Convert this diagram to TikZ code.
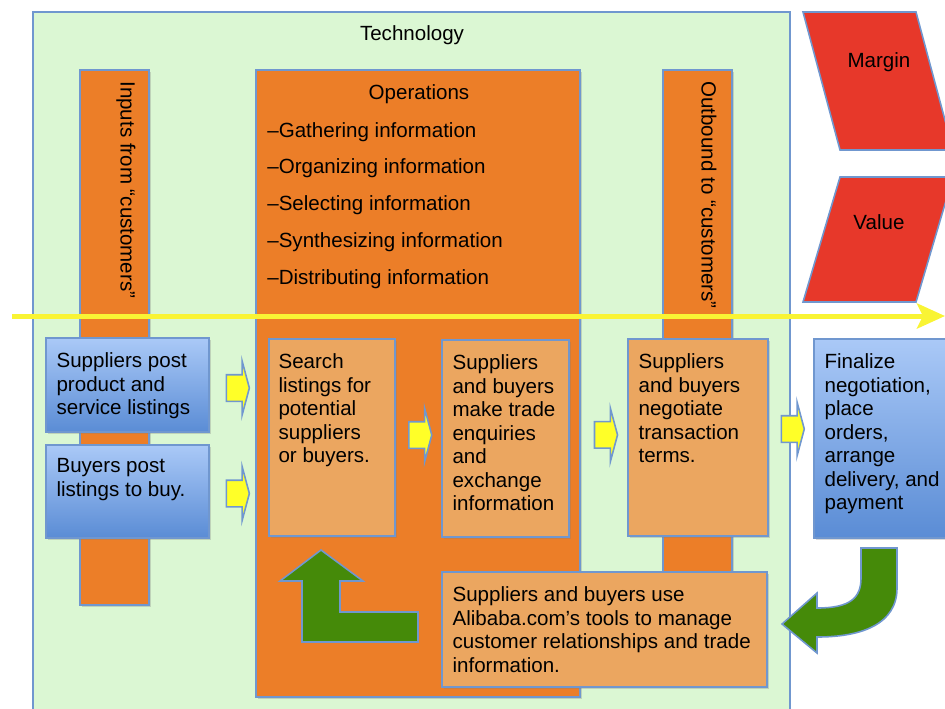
\documentclass[tikz,border=0pt]{standalone}
\usepackage{fontspec}
\setmainfont{Liberation Sans}
\usetikzlibrary{arrows.meta,shapes.arrows,fit,calc,shadows}

\definecolor{techgreen}{RGB}{219,247,211}
\definecolor{edgeblue}{RGB}{112,151,207}
\definecolor{barorange}{RGB}{236,126,40}
\definecolor{paleorange}{RGB}{235,166,96}
\definecolor{marginred}{RGB}{231,56,42}
\definecolor{flowyellow}{RGB}{249,244,52}
\definecolor{stepyellow}{RGB}{255,255,40}
\definecolor{leafgreen}{RGB}{69,138,9}
\definecolor{skytop}{RGB}{170,201,247}
\definecolor{skybottom}{RGB}{90,140,213}

\tikzset{
	px/.style={x=0.02cm,y=-0.02cm},
	boxshadow/.style={drop shadow={shadow xshift=1.2pt,shadow yshift=-1.2pt,opacity=0.3}},
	techbox/.style={draw=edgeblue,line width=0.9pt,fill=techgreen,inner sep=0pt},
	bar/.style={draw=edgeblue,line width=0.9pt,fill=barorange,inner sep=0pt,boxshadow},
	palebox/.style={draw=edgeblue,line width=0.9pt,fill=paleorange,inner sep=0pt,boxshadow},
	bluebox/.style={draw=edgeblue,line width=0.9pt,top color=skytop,bottom color=skybottom,inner sep=0pt,boxshadow},
	txt/.style={inner sep=0pt,align=left,anchor=north west},
	vtxt/.style={inner sep=0pt,rotate=-90,anchor=west},
	redshape/.style={draw=edgeblue,line width=0.9pt,fill=marginred,line join=miter},
	flow/.style={draw=flowyellow,line width=0.1cm,-{Stealth[length=0.56cm,width=0.5cm,inset=0.12cm]}},
	steparrow/.style={single arrow,draw=edgeblue,fill=stepyellow,line width=0.9pt,inner xsep=0pt,inner ysep=0.25cm,minimum height=0.46cm,single arrow head extend=0.27cm,single arrow tip angle=150},
	leaf/.style={draw=edgeblue,line width=0.9pt,fill=leafgreen,line join=miter}
}

\begin{document}
\begin{tikzpicture}[px,font=\fontsize{11.7}{13.4}\selectfont]
	\useasboundingbox (0,0) rectangle (945,708);
	\clip (0,0) rectangle (945,708);

	% frame and primary activities
	\node[techbox,fit={(33,12) (790,740)}] (tech) {};
	\node (techlbl) at (412,35) {Technology};
	\node[bar,fit={(80,70) (149,605)}] (inbar) {};
	\node[bar,fit={(256,70) (580,697)}] (ops) {};
	\node[bar,fit={(663,70) (732,620)}] (outbar) {};
	\node[vtxt] (intxt) at (126,81) {Inputs from “customers”};
	\node[vtxt] (outtxt) at (709,81) {Outbound to “customers”};
	\node (opstitle) at (419,94) {Operations};
	\node[txt,font=\fontsize{11.7}{20.9}\selectfont] (opslist) at (267,122) {–Gathering information\\–Organizing information\\–Selecting information\\–Synthesizing information\\–Distributing information};

	% margin and value
	\draw[redshape] (803,12) -- (916,12) -- (953,150) -- (840,150) -- cycle;
	\node (marginlbl) at (879,62) {Margin};
	\draw[redshape] (840,177) -- (953,177) -- (916,302) -- (803,302) -- cycle;
	\node (valuelbl) at (879,222) {Value};

	\coordinate (flowstart) at (12,316);
	\coordinate (flowend) at (945,316);
	\draw[flow] (flowstart) -- (flowend);

	% steps
	\node[bluebox,fit={(46,338) (209,432)}] (spost) {};
	\node[bluebox,fit={(46,445) (209,538)}] (bpost) {};
	\node[palebox,fit={(269,339) (395,536)}] (search) {};
	\node[palebox,fit={(442,340) (569,537)}] (enquire) {};
	\node[palebox,fit={(628,339) (768,536)}] (negotiate) {};
	\node[bluebox,fit={(814,339) (960,538)}] (finalize) {};
	\node[palebox,fit={(442,572) (767,687)}] (manage) {};

	\node[txt] (sposttxt) at ([shift={(11,15)}]spost.north west) {Suppliers post\\product and\\service listings};
	\node[txt] (bposttxt) at ([shift={(11,14)}]bpost.north west) {Buyers post\\listings to buy.};
	\node[txt] (searchtxt) at ([shift={(10,15)}]search.north west) {Search\\listings for\\potential\\suppliers\\or buyers.};
	\node[txt] (enquiretxt) at ([shift={(11,15)}]enquire.north west) {Suppliers\\and buyers\\make trade\\enquiries\\and\\exchange\\information};
	\node[txt] (negotiatetxt) at ([shift={(11,15)}]negotiate.north west) {Suppliers\\and buyers\\negotiate\\transaction\\terms.};
	\node[txt] (finalizetxt) at ([shift={(11,15)}]finalize.north west) {Finalize\\negotiation,\\place\\orders,\\arrange\\delivery, and\\payment};
	\node[txt] (managetxt) at ([shift={(11,15)}]manage.north west) {Suppliers and buyers use\\Alibaba.com’s tools to manage\\customer relationships and trade\\information.};

	\node[steparrow] (step1) at ($(spost.east)!0.45!(spost.east -| search.west)+(0,3)$) {};
	\node[steparrow] (step2) at ($(bpost.east)!0.45!(bpost.east -| search.west)+(0,2)$) {};
	\node[steparrow] (step3) at ($(search.east)!0.5!(enquire.west)+(0,-3)$) {};
	\node[steparrow] (step4) at ($(enquire.east)!0.6!(negotiate.west)+(0,-3)$) {};
	\node[steparrow] (step5) at ($(negotiate.east)!0.5!(finalize.west)+(0,-9)$) {};

	% feedback arrows
	\draw[leaf] (321,550) -- (363,581) -- (340,581) -- (340,612) -- (418,612) -- (418,642) -- (302,642) -- (302,581) -- (280,581) -- cycle;
	\draw[leaf] (861,548) -- (897,548) -- (897,588) .. controls (897,624) and (862,637) .. (817,637) -- (817,653) -- (782,624) -- (817,593) -- (817,608) .. controls (850,608) and (861,598) .. (861,578) -- cycle;
\end{tikzpicture}
\end{document}
